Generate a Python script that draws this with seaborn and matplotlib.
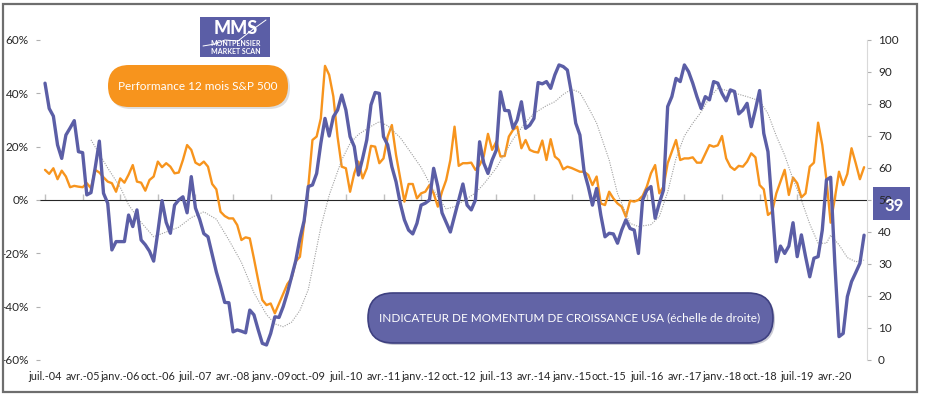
import numpy as np
import pandas as pd
import seaborn as sns
import matplotlib.pyplot as plt
from matplotlib.patches import FancyBboxPatch, Rectangle
from matplotlib.lines import Line2D
from matplotlib.transforms import IdentityTransform

# Indicateur de momentum de croissance USA (échelle de droite), mensuel depuis juil.-04
momentum = [
    86.5, 78.6, 76.2, 67.2, 63.0, 70.3, 72.5, 74.8, 65.1, 64.8,
    51.6, 52.3, 60.0, 68.4, 52.1, 49.0, 34.4, 37.0, 37.0, 37.0,
    45.3, 41.7, 46.9, 37.5, 36.0, 34.0, 30.9, 40.0, 49.8, 43.0,
    39.6, 48.4, 50.0, 51.0, 46.0, 57.3, 47.5, 44.0, 39.5, 38.5,
    33.0, 27.5, 23.0, 18.0, 17.9, 8.8, 9.4, 9.0, 8.5, 15.6,
    14.1, 9.5, 5.2, 4.7, 8.3, 13.5, 13.3, 16.7, 21.0, 26.0,
    31.0, 38.0, 43.5, 54.2, 54.7, 58.3, 67.7, 75.5, 70.0, 76.0,
    78.1, 82.8, 78.1, 69.8, 66.7, 57.8, 63.0, 68.8, 79.7, 83.6,
    83.3, 69.8, 67.2, 60.4, 55.7, 49.0, 43.8, 40.6, 39.4, 42.7,
    48.4, 49.0, 50.0, 59.9, 54.2, 46.0, 43.0, 40.0, 45.0, 50.0,
    55.0, 48.4, 46.9, 50.0, 68.2, 61.5, 58.3, 62.5, 65.6, 83.8,
    78.0, 77.9, 72.4, 75.0, 80.7, 72.4, 73.4, 75.5, 86.7, 86.3,
    87.0, 84.9, 89.1, 92.2, 91.7, 90.6, 83.3, 74.0, 70.3, 59.0,
    54.2, 48.4, 53.6, 45.3, 38.5, 39.6, 39.4, 36.5, 40.6, 43.8,
    41.1, 40.6, 33.3, 50.0, 53.1, 54.2, 44.3, 49.0, 53.1, 79.2,
    82.3, 88.0, 87.0, 92.2, 90.1, 86.5, 82.3, 78.6, 82.3, 81.3,
    87.0, 86.5, 83.3, 81.0, 84.4, 83.9, 76.9, 78.1, 80.2, 72.9,
    78.3, 84.2, 70.8, 65.1, 47.9, 30.7, 35.6, 33.3, 35.6, 42.9,
    32.3, 39.1, 32.3, 26.0, 31.8, 32.3, 40.6, 56.3, 57.1, 30.2,
    7.3, 8.3, 19.8, 24.5, 27.3, 30.2, 39.0,
]

# Performance 12 mois S&P 500 (%), échelle de gauche
sp500 = [
    11.3, 9.8, 11.9, 7.8, 11.0, 8.8, 4.8, 5.3, 5.0, 4.8,
    6.3, 4.4, 11.3, 10.3, 8.5, 6.9, 6.3, 3.1, 8.1, 6.5,
    9.5, 13.1, 6.9, 6.5, 3.5, 7.5, 8.8, 14.4, 12.3, 13.8,
    12.5, 10.0, 10.3, 15.0, 20.6, 18.8, 14.0, 13.1, 14.4, 12.5,
    6.0, 4.0, -4.4, -6.0, -6.9, -6.9, -9.4, -15.0, -14.0, -14.4,
    -22.0, -30.0, -37.5, -39.4, -38.8, -42.5, -38.8, -35.0, -31.5, -29.4,
    -23.0, -21.3, -8.8, 5.0, 22.5, 23.8, 30.6, 50.3, 46.9, 38.8,
    23.8, 12.5, 11.9, 3.1, 10.0, 14.4, 8.1, 11.9, 20.3, 20.0,
    13.8, 15.6, 23.8, 28.1, 16.9, 8.1, -0.6, 6.0, 6.0, 0.6,
    2.5, 3.1, 5.6, 2.5, -2.5, 3.1, 7.5, 15.0, 27.5, 12.8,
    13.8, 13.8, 14.0, 11.3, 13.1, 16.5, 24.8, 18.8, 21.9, 16.3,
    16.5, 23.8, 26.3, 27.5, 19.4, 22.5, 18.8, 18.1, 17.8, 22.3,
    15.0, 22.8, 16.3, 15.0, 11.5, 12.5, 12.0, 11.3, 10.6, 10.6,
    9.4, 5.6, 8.8, -1.3, -1.9, 3.1, 0.6, -1.3, -2.5, -6.3,
    -0.3, -0.6, 0.0, 1.5, 5.0, 10.0, 13.1, 2.5, 5.0, 13.8,
    18.1, 22.5, 15.0, 15.6, 15.6, 16.0, 14.0, 14.0, 17.3, 20.6,
    20.0, 20.5, 24.0, 15.6, 12.5, 11.3, 12.8, 12.5, 14.4, 17.5,
    16.0, 5.6, 4.0, -5.6, -4.4, 2.5, 6.9, 11.3, 1.9, 8.4,
    6.3, 1.0, 2.5, 12.5, 14.0, 29.0, 20.6, 7.5, -8.5, 0.6,
    10.6, 5.6, 9.8, 19.4, 13.8, 7.8, 12.3,
]

# courbe lissée (pointillés gris)
lisse_mois = [11, 15, 18, 20, 23, 26, 29, 32, 35, 38, 41, 44, 47, 50, 53, 55, 57, 59,
              61, 63, 65, 66, 68, 71, 73, 75, 78, 80, 82, 85, 87, 90, 92, 94, 96, 98,
              100, 103, 105, 108, 110, 112, 115, 117, 120, 122, 124, 126, 128, 130,
              132, 135, 137, 140, 142, 145, 147, 149, 151, 153, 155, 157, 159, 161,
              163, 165, 168, 171, 173, 175, 177, 179, 181, 183, 185, 187, 188, 190,
              192, 194, 196]
lisse_val = [68.8, 60.0, 54.0, 48.5, 43.0, 38.5, 40.0, 41.5, 44.5, 46.3, 44.0, 37.5,
             30.5, 21.0, 14.2, 11.3, 10.4, 11.8, 15.5, 22.0, 35.0, 41.5, 51.5, 62.5,
             67.7, 70.5, 73.0, 74.5, 73.2, 69.5, 65.8, 60.2, 55.3, 51.0, 47.2, 47.9,
             49.6, 52.2, 55.0, 60.0, 64.6, 69.0, 74.3, 77.0, 79.5, 80.7, 83.0, 84.6,
             83.6, 79.0, 74.0, 62.5, 52.0, 42.7, 41.7, 42.3, 44.8, 52.5, 63.0, 70.0,
             74.0, 77.5, 82.0, 84.9, 84.3, 83.4, 82.3, 81.0, 77.0, 70.0, 64.0, 56.5,
             50.0, 42.5, 36.5, 36.5, 39.0, 36.0, 32.0, 30.7, 31.2]

tick_labels = ['juil.-04', 'avr.-05', 'janv.-06', 'oct.-06', 'juil.-07', 'avr.-08',
               'janv.-09', 'oct.-09', 'juil.-10', 'avr.-11', 'janv.-12', 'oct.-12',
               'juil.-13', 'avr.-14', 'janv.-15', 'oct.-15', 'juil.-16', 'avr.-17',
               'janv.-18', 'oct.-18', 'juil.-19', 'avr.-20']

df = pd.DataFrame({'mois': np.arange(len(momentum)), 'momentum': momentum, 'sp500': sp500})
lisse_df = pd.DataFrame({'mois': lisse_mois, 'lisse': lisse_val})

BLEU = '#5b5ea6'
ORANGE = '#f7941d'

sns.set_style('white')
plt.rcParams['font.family'] = ['Lato', 'DejaVu Sans']

W, H = 925, 399
fig = plt.figure(figsize=(W / 100, H / 100), dpi=100)
ax = fig.add_axes([40 / W, 1 - 360 / H, 827 / W, 320 / H])

sns.lineplot(data=df, x='mois', y='sp500', ax=ax, color=ORANGE, lw=1.7)
ax.set_ylim(-60, 60)
ax.set_xlim(-1.2, len(momentum) - 0.3)
ax.set_yticks(range(-60, 61, 20))
ax.set_yticklabels([f'{v}%' for v in range(-60, 61, 20)])
ax.set_xticks(np.arange(0, 9 * len(tick_labels), 9))
ax.set_xticklabels(tick_labels)
ax.set_xlabel('')
ax.set_ylabel('')
ax.tick_params(axis='x', length=0, pad=8, labelsize=7.8, labelcolor='#262626')
ax.tick_params(axis='y', length=3, color='#b0b0b0', direction='out', pad=5,
               labelsize=8.5, labelcolor='#262626')
for s in ax.spines.values():
    s.set_visible(False)

# axe des abscisses sur la ligne 0 %
sec = ax.secondary_xaxis(0.5)
sec.set_xticks(np.arange(0, 9 * len(tick_labels), 9))
sec.set_xticklabels([])
sec.tick_params(axis='x', direction='out', length=4, color='#c0c0c0', width=1)
sec.spines['bottom'].set_color('#c8c8c8')
sec.spines['bottom'].set_linewidth(1.3)

ax2 = ax.twinx()
sns.lineplot(data=lisse_df, x='mois', y='lisse', ax=ax2, color='#a0a0a0', lw=0.8,
             linestyle=(0, (1, 1.2)))
sns.lineplot(data=df, x='mois', y='momentum', ax=ax2, color=BLEU, lw=2.4,
             solid_joinstyle='round')
ax2.set_ylim(0, 100)
ax2.set_yticks(range(0, 101, 10))
ax2.set_ylabel('')
ax2.tick_params(axis='y', length=3, color='#b0b0b0', direction='out', pad=5,
                labelsize=8.5, labelcolor='#262626')
for k, s in ax2.spines.items():
    s.set_visible(k == 'right')
ax2.spines['right'].set_color('#d9d9d9')

ident = IdentityTransform()


def pix(x, y):
    return x, H - y


# cadre
fig.add_artist(Rectangle(pix(3, 392), 914, 388, fill=False, ec='#6e6e6e', lw=1.6,
                         transform=ident))

# logo MMS
fig.add_artist(Rectangle(pix(200, 57), 70, 40, fc=BLEU, ec='none', transform=ident))
fig.add_artist(Line2D([203, 215, 225, 238, 252, 266], [H - 46, H - 44, H - 40, H - 41, H - 30, H - 20],
                      color='white', lw=0.7, transform=ident))
fig.text(*pix(236, 29), 'MMS', color='white', fontsize=13, fontweight='black',
         ha='center', va='center', transform=ident)
fig.text(*pix(236, 44), 'MONTPENSIER', color='white', fontsize=5, fontweight='bold',
         ha='center', va='center', transform=ident)
fig.text(*pix(236, 52), 'MARKET SCAN', color='white', fontsize=5, fontweight='bold',
         ha='center', va='center', transform=ident)

# étiquette orange
fig.add_artist(FancyBboxPatch(pix(110, 109), 180, 42, boxstyle='round,pad=0,rounding_size=21',
                              fc='#c9c9c9', ec='none', alpha=0.6, transform=ident))
fig.add_artist(FancyBboxPatch(pix(108, 107), 180, 42, boxstyle='round,pad=0,rounding_size=21',
                              fc=ORANGE, ec='none', transform=ident))
fig.text(*pix(198, 86), 'Performance 12 mois S&P 500', color='white', fontsize=8.5,
         ha='center', va='center', transform=ident)

# étiquette violette
fig.add_artist(FancyBboxPatch(pix(370, 345), 405, 50, boxstyle='round,pad=0,rounding_size=25',
                              fc='#a8a8b8', ec='none', alpha=0.6, transform=ident))
fig.add_artist(FancyBboxPatch(pix(368, 343), 405, 50, boxstyle='round,pad=0,rounding_size=25',
                              fc='#6264a6', ec='#3e4080', lw=1.2, transform=ident))
fig.text(*pix(570, 318), 'INDICATEUR DE MOMENTUM DE CROISSANCE USA (échelle de droite)',
         color='white', fontsize=8.5, ha='center', va='center', transform=ident)

# dernière valeur (placée sous les graduations, comme sur l'original)
fig.add_artist(Rectangle(pix(873, 220), 37, 33, fc=BLEU, ec='none', transform=ident,
                         zorder=-1))
fig.text(*pix(894, 206), f'{momentum[-1]:.0f}', color='white', fontsize=12,
         fontweight='bold', ha='center', va='center', transform=ident)

fig.savefig('out.png', dpi=100)
